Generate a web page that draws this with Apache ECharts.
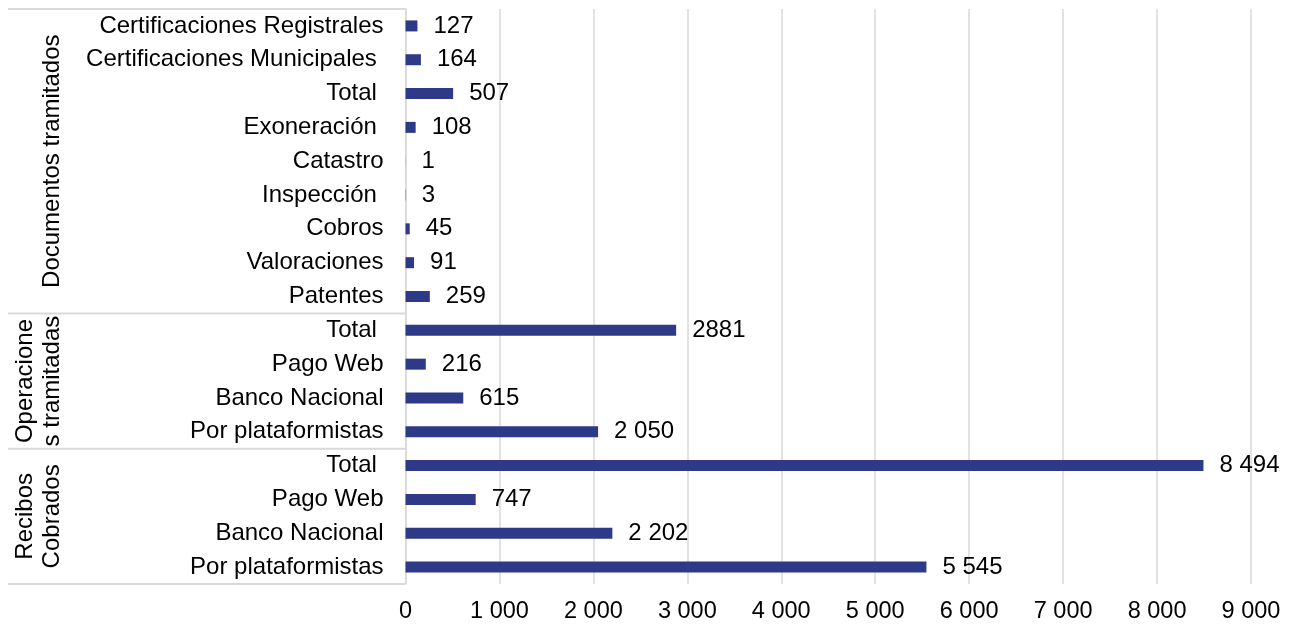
<!DOCTYPE html>
<html><head><meta charset="utf-8">
<script src="https://cdn.jsdelivr.net/npm/echarts@6/dist/echarts.min.js"></script>
<style>html,body{margin:0;padding:0;background:#fff}#c{width:1292px;height:626px}</style>
</head><body><div id="c"></div>
<script>
// bottom to top
const categories = [
  "Por plataformistas", "Banco Nacional", "Pago Web", "Total ",
  "Por plataformistas", "Banco Nacional", "Pago Web", "Total ",
  "Patentes", "Valoraciones", "Cobros", "Inspección ", "Catastro",
  "Exoneración ", "Total ", "Certificaciones Municipales ", "Certificaciones Registrales"
];
const values = [5545, 2202, 747, 8494, 2050, 615, 216, 2881, 259, 91, 45, 3, 1, 108, 507, 164, 127];
const valueLabels = ["5 545", "2 202", "747", "8 494", "2 050", "615", "216", "2881",
  "259", "91", "45", "3", "1", "108", "507", "164", "127"];
const xTickLabels = ["0", "1 000", "2 000", "3 000", "4 000", "5 000", "6 000", "7 000", "8 000", "9 000"];
const groupNames = ["Recibos\nCobrados", "Operacione\ns tramitadas", "Documentos tramitados"];
const groupStart = [0, 4, 8];
const groupEnd = [3, 7, 16];

const FONT = "'Liberation Sans', Arial, sans-serif";
const keys = categories.map((c, i) => 'k' + i);
const chart = echarts.init(document.getElementById('c'), null, {renderer: 'canvas'});
chart.setOption({
  animation: false,
  backgroundColor: '#fff',
  grid: {left: 405.5, right: 41, top: 9, bottom: 42},
  xAxis: {
    type: 'value', min: 0, max: 9000, interval: 1000,
    axisLine: {show: false}, axisTick: {show: false},
    splitLine: {lineStyle: {color: '#d9d9d9', width: 1.5}},
    axisLabel: {
      margin: 16, color: '#000', fontSize: 23.5, fontFamily: FONT,
      formatter: v => xTickLabels[Math.round(v / 1000)]
    }
  },
  yAxis: {
    type: 'category', data: keys,
    axisTick: {show: false},
    axisLine: {lineStyle: {color: '#d9d9d9', width: 1.5}},
    axisLabel: {
      margin: 22, color: '#000', fontSize: 24, fontFamily: FONT, interval: 0,
      formatter: v => categories[+v.slice(1)]
    }
  },
  series: [{
    type: 'bar', data: values, barWidth: 11,
    itemStyle: {color: '#2E3A87'},
    label: {
      show: true, position: 'right', distance: 16, color: '#000',
      fontSize: 24, fontFamily: FONT,
      formatter: p => valueLabels[p.dataIndex]
    }
  }]
});

const py = i => chart.convertToPixel({yAxisIndex: 0}, i);
const band = Math.abs(py(1) - py(0));
const gridLeft = 405.5;
const elements = [];
const ys = new Set();
groupNames.forEach((name, g) => {
  const yBottom = py(groupStart[g]) + band / 2;
  const yTop = py(groupEnd[g]) - band / 2;
  ys.add(Math.round(yBottom * 10) / 10);
  ys.add(Math.round(yTop * 10) / 10);
  const twoLines = name.indexOf('\n') >= 0;
  elements.push({
    type: 'text', x: twoLines ? 38.5 : 52, y: (yBottom + yTop) / 2,
    rotation: Math.PI / 2,
    style: {text: name, fill: '#000', fontSize: 24, fontFamily: FONT,
      align: 'center', verticalAlign: 'middle', lineHeight: 27},
    z: 100
  });
});
ys.forEach(y => {
  elements.push({
    type: 'line', shape: {x1: 8, y1: y, x2: gridLeft, y2: y},
    style: {stroke: '#d9d9d9', lineWidth: 2}, z: 90
  });
});
chart.setOption({graphic: {elements}});
</script></body></html>
